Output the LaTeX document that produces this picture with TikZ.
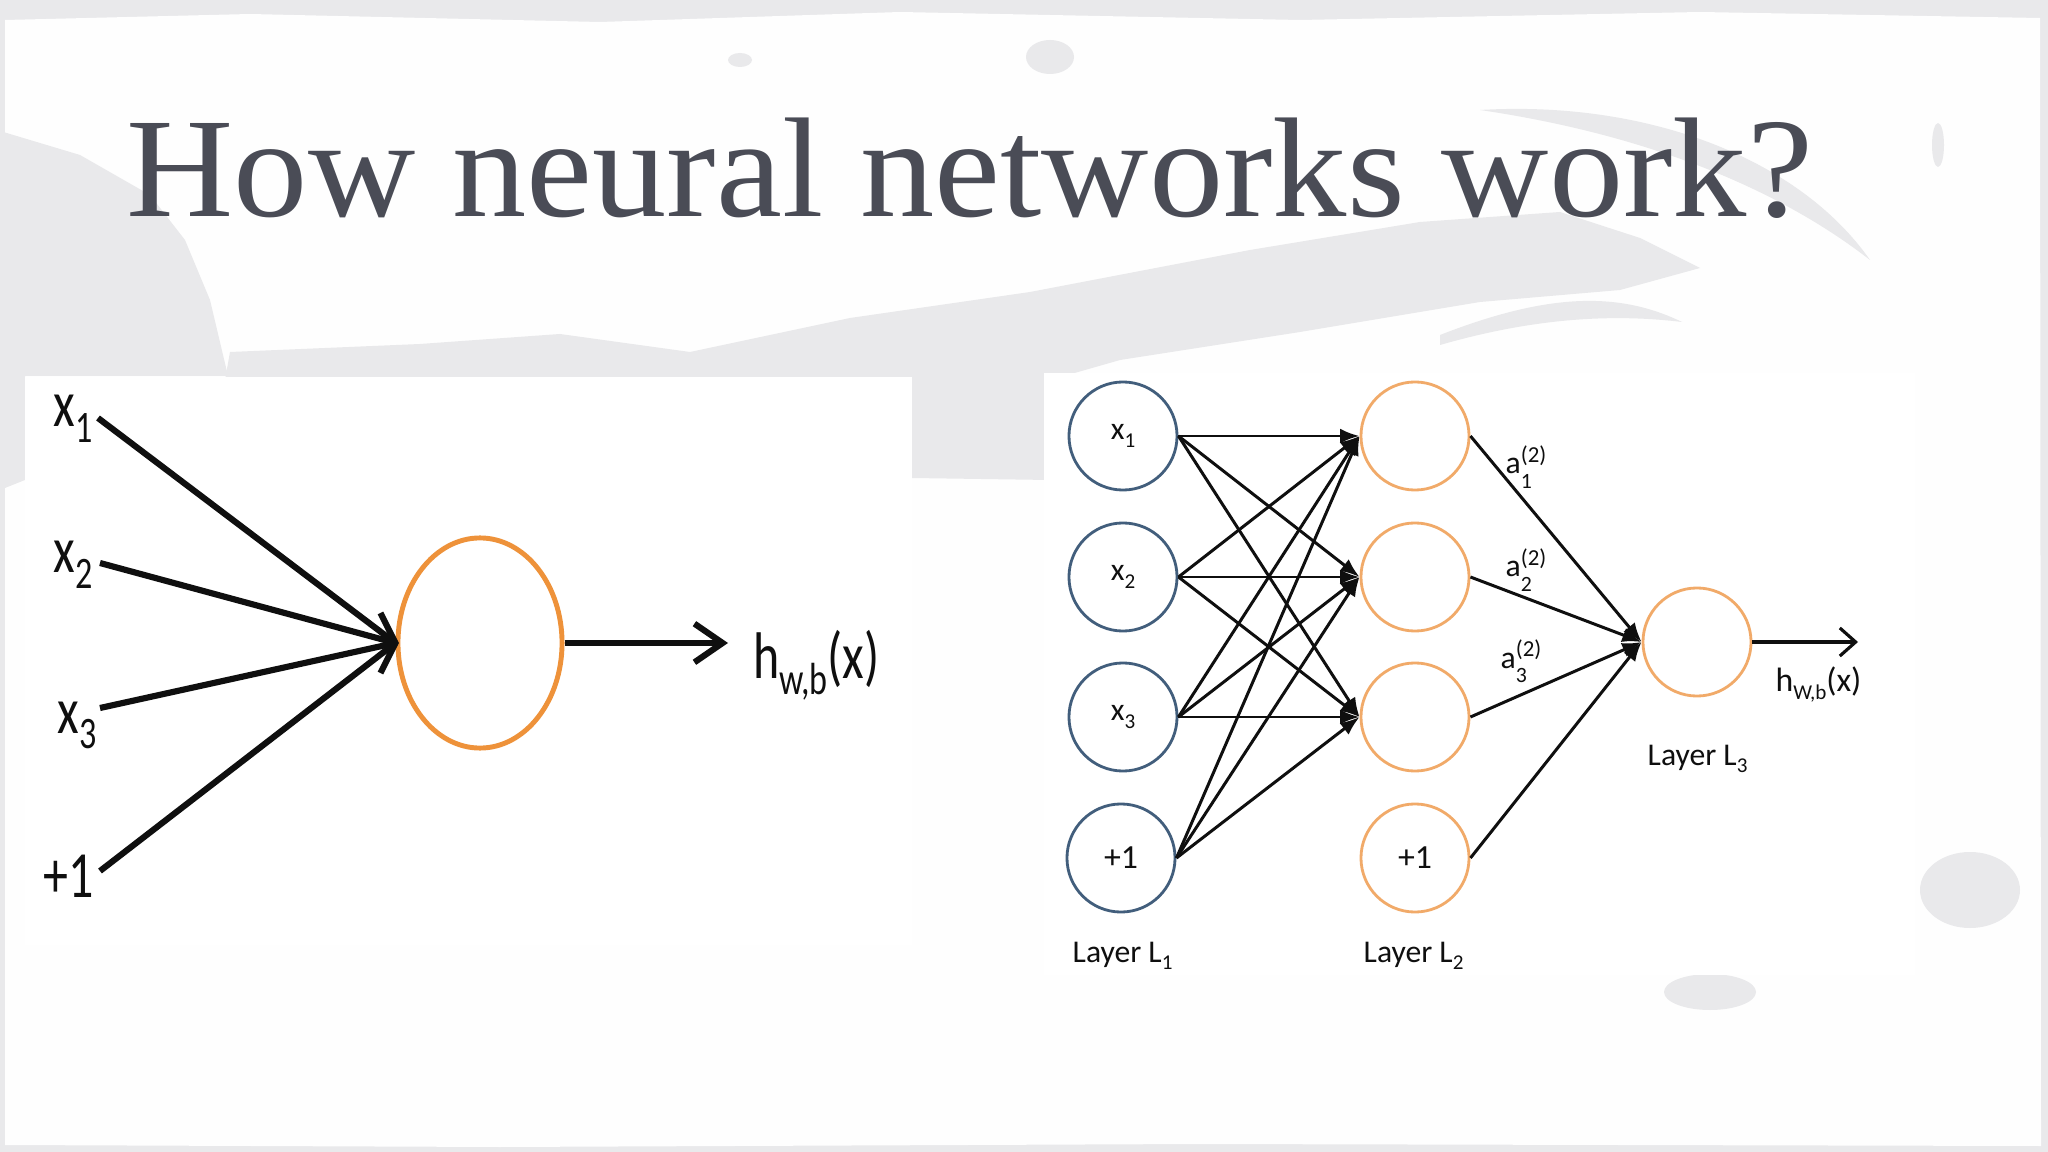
\documentclass[tikz,border=0pt]{standalone}
\usepackage{fontspec}
\usepackage{graphicx}
\setmainfont{Carlito}
\newfontfamily\titlefont{Liberation Serif}
\usetikzlibrary{arrows.meta,shapes.geometric}
\definecolor{bggrey}{RGB}{233,233,235}
\definecolor{paper}{RGB}{254,254,254}
\definecolor{titlecol}{RGB}{74,76,86}
\definecolor{orangeA}{RGB}{238,146,58}
\definecolor{orangeB}{RGB}{241,170,105}
\definecolor{blueA}{RGB}{66,94,124}
\definecolor{ink}{RGB}{15,15,15}
\newcommand\lsub[1]{\raisebox{-3.4pt}{\fontsize{9.7pt}{10pt}\selectfont #1}}
\newcommand\bigfont{\fontsize{14.2pt}{17pt}\selectfont}
\newcommand\tall[1]{\scalebox{1}[1.32]{#1}}
\newcommand\rfont{\fontsize{9pt}{11pt}\selectfont}
\newcommand\rsub[1]{\raisebox{-2.2pt}{\fontsize{6pt}{7pt}\selectfont #1}}
\newcommand\asup[2]{\rlap{\raisebox{3.4pt}{\fontsize{6.5pt}{7pt}\selectfont #1}}\raisebox{-4pt}{\fontsize{6.2pt}{7pt}\selectfont #2}}
\tikzset{
  lbl/.style={anchor=base west, inner sep=0pt, text=ink},
  thickline/.style={draw=ink, line width=1.75pt},
  l1node/.style={circle, draw=blueA, line width=0.8pt, minimum size=1.08cm, inner sep=0pt, font=\rfont, text=ink},
  l2node/.style={circle, draw=orangeB, line width=0.8pt, minimum size=1.08cm, inner sep=0pt, font=\rfont, text=ink},
  rarrow/.style={draw=ink, line width=0.85pt, -{Latex[length=5.5pt,width=4.2pt]}},
}
\begin{document}
\begin{tikzpicture}[x=0.01cm, y=-0.01cm]
\useasboundingbox (0,0) rectangle (2048,1152);
% background
\fill[bggrey] (0,0) rectangle (2048,1152);
\fill[paper] (5,20) -- (250,14) -- (600,22) -- (900,12) -- (1300,20) -- (1700,12) -- (2040,18) -- (2041,1146) -- (1200,1144) -- (500,1147) -- (5,1145) -- cycle;
% brush strokes
\fill[bggrey] (0,131) -- (80,155) -- (150,195) -- (185,240) -- (210,300) -- (228,376) -- (25,376) -- (25,480) -- (0,490) -- cycle;
\fill[bggrey] (225,380) -- (230,352) -- (420,344) -- (560,334) -- (690,352) -- (850,318) -- (1030,292) -- (1250,250) -- (1420,222) -- (1560,212) -- (1640,238) -- (1700,268) -- (1620,290) -- (1480,302) -- (1300,332) -- (1120,360) -- (1050,380) -- cycle;
\fill[bggrey] (900,360) -- (1050,360) -- (1050,480) -- (912,478) -- cycle;
\fill[bggrey] (1480,110) .. controls (1650,100) and (1800,160) .. (1870,260) .. controls (1780,190) and (1650,135) .. (1480,110) -- cycle;
\fill[bggrey] (1440,335) .. controls (1550,292) and (1620,292) .. (1682,322) .. controls (1600,312) and (1520,322) .. (1440,345) -- cycle;
\fill[bggrey] (1970,890) ellipse [x radius=50, y radius=38];
\fill[bggrey] (1710,992) ellipse [x radius=46, y radius=18];
\fill[bggrey] (1050,57) ellipse [x radius=24, y radius=17];
\fill[bggrey] (740,60) ellipse [x radius=12, y radius=7];
\fill[bggrey] (1938,145) ellipse [x radius=6, y radius=22];
% image panels
\fill[white] (25,377) rectangle (912,945);
\fill[white] (1044,373) rectangle (1915,975);
% title
\node[anchor=base west, inner sep=0pt, text=titlecol, font=\titlefont\fontsize{40.4pt}{48pt}\selectfont] (title) at (126,217) {\scalebox{1.045}[1]{How neural networks work?}};

% ---------- left: single neuron ----------
\node[ellipse, draw=orangeA, line width=1.4pt, minimum width=1.64cm, minimum height=2.10cm, inner sep=0pt] (nn) at (480,643) {};
\node[lbl, font=\bigfont] (lx1) at (53,427) {\tall{x\lsub{1}}};
\node[lbl, font=\bigfont] (lx2) at (53,573) {\tall{x\lsub{2}}};
\node[lbl, font=\bigfont] (lx3) at (57,733) {\tall{x\lsub{3}}};
\node[lbl, font=\bigfont] (lb) at (43,897) {\tall{+1}};
\node[lbl, font=\bigfont] (lh) at (753,679) {\tall{h\lsub{w,b}(x)}};
\coordinate (s1) at (98,418);
\coordinate (s2) at (100,563);
\coordinate (s3) at (100,708);
\coordinate (s4) at (100,871);
\coordinate (lhout) at (728,643);
\foreach \s in {s1,s2,s3,s4} \draw[thickline] (\s) -- (nn.west);
\draw[thickline, line join=miter] ([shift={(-15,-30)}]nn.west) -- (nn.west) -- ([shift={(-15,30)}]nn.west);
\draw[thickline, -{Straight Barb[length=8pt,width=11pt]}] (nn.east) -- (lhout);

% ---------- right: network ----------
\node[l1node] (a1) at (1123,436) {x\rsub{1}};
\node[l1node] (a2) at (1123,577) {x\rsub{2}};
\node[l1node] (a3) at (1123,717) {x\rsub{3}};
\node[l1node, font=\fontsize{9.6pt}{11pt}\selectfont] (a4) at (1121,858) {+1};
\node[l2node] (b1) at (1415,436) {};
\node[l2node] (b2) at (1415,577) {};
\node[l2node] (b3) at (1415,717) {};
\node[l2node, font=\fontsize{9.6pt}{11pt}\selectfont] (b4) at (1415,858) {+1};
\node[l2node] (c) at (1697,642) {};
\coordinate (cout) at (1858,642);
\foreach \i in {1,...,4} \foreach \j in {1,2,3} \draw[rarrow] (a\i.east) -- (b\j.west);
\foreach \j in {1,...,4} \draw[rarrow] (b\j.east) -- (c.west);
\draw[draw=ink, line width=0.9pt, -{Straight Barb[length=4.5pt,width=8pt]}] (c.east) -- (cout);
\node[lbl, font=\rfont] (al1) at (1505,474) {a\asup{(2)}{1}};
\node[lbl, font=\rfont] (al2) at (1505,577) {a\asup{(2)}{2}};
\node[lbl, font=\rfont] (al3) at (1500,668) {a\asup{(2)}{3}};
\node[lbl, font=\fontsize{9.6pt}{11pt}\selectfont] (rh) at (1775,692) {h\rsub{W,b}(x)};
\node[lbl, font=\rfont] (lay1) at (1072,962) {Layer L\rsub{1}};
\node[lbl, font=\rfont] (lay2) at (1363,962) {Layer L\rsub{2}};
\node[lbl, font=\rfont] (lay3) at (1647,765) {Layer L\rsub{3}};
\end{tikzpicture}
\end{document}
